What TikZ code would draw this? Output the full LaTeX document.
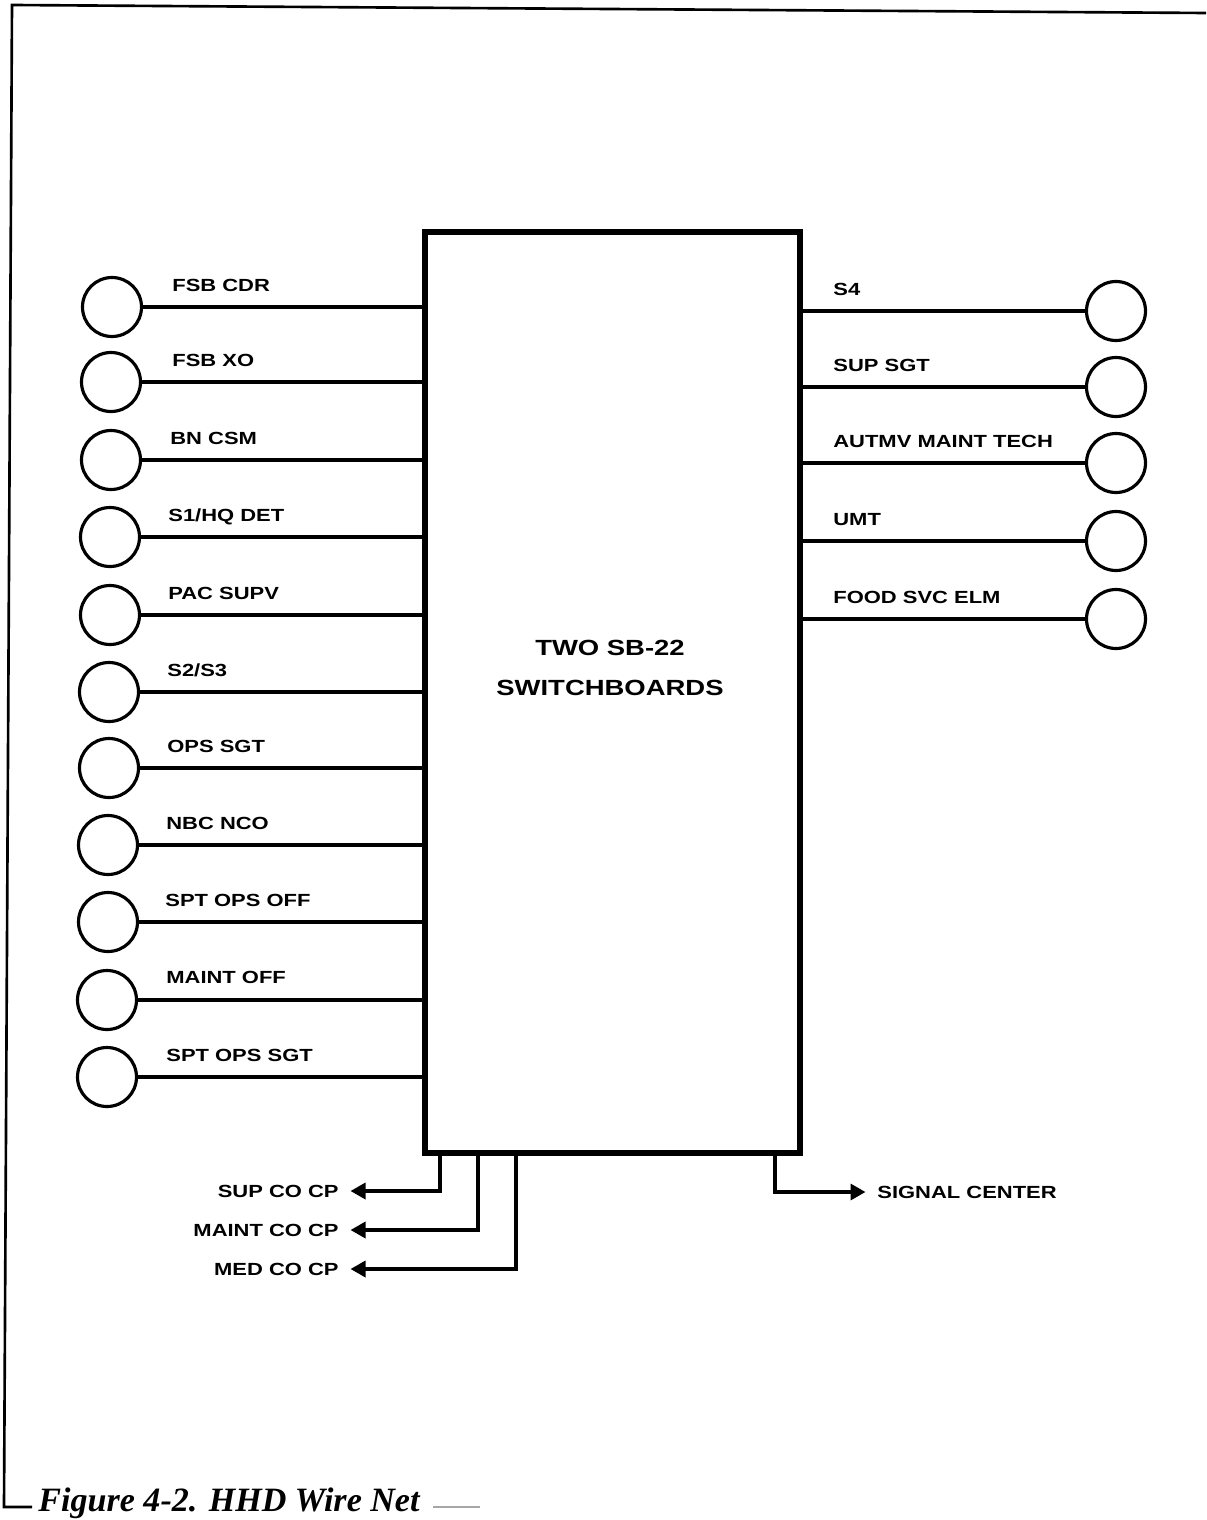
\documentclass[tikz,border=0pt]{standalone}
\usepackage{fontspec}
\setsansfont{Liberation Sans}[FakeStretch=1.25]
\newfontfamily\captionfont{Liberation Serif}
\usetikzlibrary{positioning,arrows.meta}
\tikzset{
  jack/.style={draw, circle, line width=1.8pt, minimum size=1.18cm, inner sep=0pt},
  wire/.style={line width=1.9pt},
  feed/.style={line width=1.9pt, -{Triangle[length=3mm, width=3.2mm]}},
  board/.style={draw, line width=3.4pt, minimum width=7.5cm, minimum height=18.42cm, inner sep=0pt},
  tag/.style={font=\sffamily\bfseries\fontsize{10}{12}\selectfont, inner sep=0pt, text height=7.2pt, text depth=0pt, anchor=west},
  boardtext/.style={font=\sffamily\bfseries\fontsize{12.5}{23}\selectfont, align=center},
  frame/.style={line width=1.5pt},
  captext/.style={font=\captionfont\bfseries\itshape\fontsize{19.4}{22}\selectfont, inner sep=0pt, anchor=base west}
}

\begin{document}
\begin{tikzpicture}[x=0.02cm, y=-0.02cm]
  \useasboundingbox (0,0) rectangle (1206,1520);

  % frame and caption
  \coordinate (ftl) at (12,5);
  \coordinate (ftr) at (1206,13);
  \coordinate (fbl) at (4,1507);
  \coordinate (fbe) at (32,1507);
  \draw[frame] (ftr) -- (ftl) -- (fbl) -- (fbe);
  \node[captext] (cap) at (38,1511) {Figure 4-2. HHD Wire Net};
  \coordinate (ct1) at (433,1507);
  \coordinate (ct2) at (480,1507);
  \draw[frame, gray!70] (ct1) -- (ct2);

  % switchboards
  \node[board] (sb) at (612.5,692.5) {};
  \node[boardtext] (sbt) at (610,668) {TWO SB-22\\SWITCHBOARDS};

  % left side
  \node[jack] (l1) at (112,307) {};
  \node[tag] (tl1) at (172,285) {FSB CDR};
  \node[jack] (l2) at (111,382) {};
  \node[tag] (tl2) at (172,360) {FSB XO};
  \node[jack] (l3) at (111,460) {};
  \node[tag] (tl3) at (170,438) {BN CSM};
  \node[jack] (l4) at (110,537) {};
  \node[tag] (tl4) at (168,515) {S1/HQ DET};
  \node[jack] (l5) at (110,615) {};
  \node[tag] (tl5) at (168,593) {PAC SUPV};
  \node[jack] (l6) at (109,692) {};
  \node[tag] (tl6) at (167,670) {S2/S3};
  \node[jack] (l7) at (109,768) {};
  \node[tag] (tl7) at (167,746) {OPS SGT};
  \node[jack] (l8) at (108,845) {};
  \node[tag] (tl8) at (166,823) {NBC NCO};
  \node[jack] (l9) at (108,922) {};
  \node[tag] (tl9) at (165,900) {SPT OPS OFF};
  \node[jack] (l10) at (107,1000) {};
  \node[tag] (tl10) at (166,977) {MAINT OFF};
  \node[jack] (l11) at (107,1077) {};
  \node[tag] (tl11) at (166,1055) {SPT OPS SGT};
  \draw[wire] (l1) -- (l1 -| sb.west);
  \draw[wire] (l2) -- (l2 -| sb.west);
  \draw[wire] (l3) -- (l3 -| sb.west);
  \draw[wire] (l4) -- (l4 -| sb.west);
  \draw[wire] (l5) -- (l5 -| sb.west);
  \draw[wire] (l6) -- (l6 -| sb.west);
  \draw[wire] (l7) -- (l7 -| sb.west);
  \draw[wire] (l8) -- (l8 -| sb.west);
  \draw[wire] (l9) -- (l9 -| sb.west);
  \draw[wire] (l10) -- (l10 -| sb.west);
  \draw[wire] (l11) -- (l11 -| sb.west);

  % right side
  \node[jack] (r1) at (1116,311) {};
  \node[tag] (tr1) at (833,289) {S4};
  \node[jack] (r2) at (1116,387) {};
  \node[tag] (tr2) at (833,365) {SUP SGT};
  \node[jack] (r3) at (1116,463) {};
  \node[tag] (tr3) at (833,441) {AUTMV MAINT TECH};
  \node[jack] (r4) at (1116,541) {};
  \node[tag] (tr4) at (833,519) {UMT};
  \node[jack] (r5) at (1116,619) {};
  \node[tag] (tr5) at (833,597) {FOOD SVC ELM};
  \draw[wire] (r1 -| sb.east) -- (r1);
  \draw[wire] (r2 -| sb.east) -- (r2);
  \draw[wire] (r3 -| sb.east) -- (r3);
  \draw[wire] (r4 -| sb.east) -- (r4);
  \draw[wire] (r5 -| sb.east) -- (r5);

  % bottom feeds
  \coordinate (s1) at (440,1191);
  \coordinate (s2) at (478,1230);
  \coordinate (s3) at (516,1269);
  \coordinate (s4) at (775,1192);
  \node[tag, anchor=east] (sup) at (339,1191) {SUP CO CP};
  \node[tag, anchor=east] (mnt) at (339,1230) {MAINT CO CP};
  \node[tag, anchor=east] (med) at (339,1269) {MED CO CP};
  \node[tag] (sig) at (877,1192) {SIGNAL CENTER};
  \draw[feed] (sb.south -| s1) -- (s1) -- ([xshift=0.23cm]sup.east);
  \draw[feed] (sb.south -| s2) -- (s2) -- ([xshift=0.23cm]mnt.east);
  \draw[feed] (sb.south -| s3) -- (s3) -- ([xshift=0.23cm]med.east);
  \draw[feed] (sb.south -| s4) -- (s4) -- ([xshift=-0.23cm]sig.west);
\end{tikzpicture}
\end{document}
